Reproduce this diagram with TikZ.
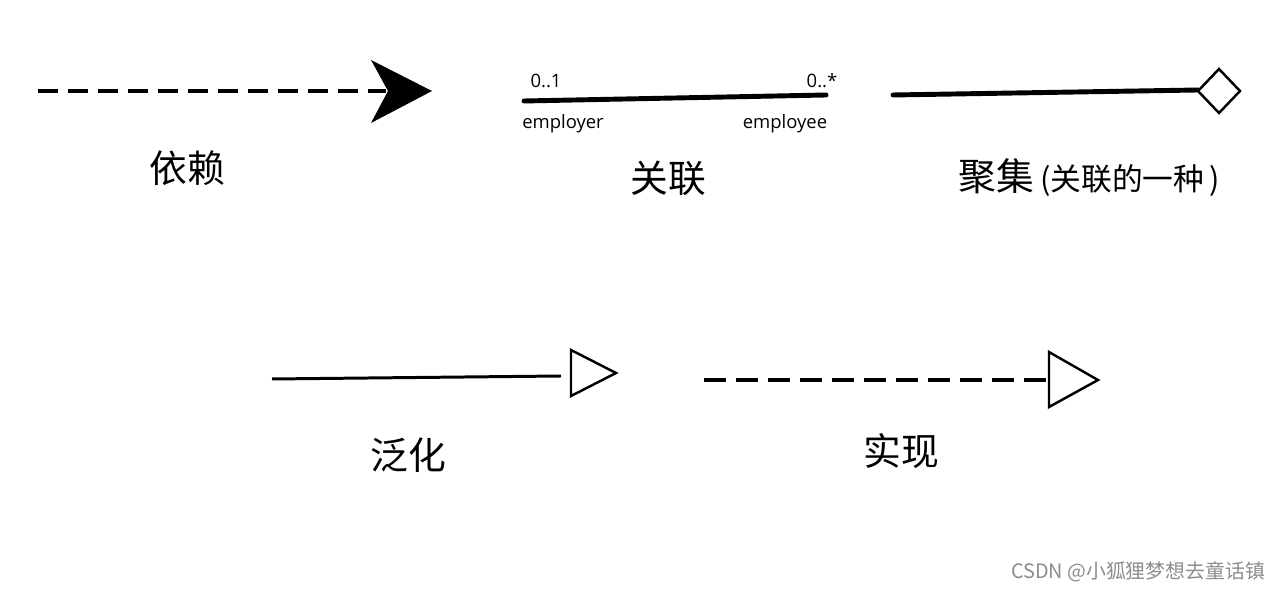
\documentclass[tikz,border=0pt]{standalone}
\usepackage{fontspec}
\setmainfont{Open Sans}
\newfontfamily\cjk{Noto Sans CJK SC}
\usetikzlibrary{positioning}
\begin{document}
\begin{tikzpicture}[x=0.02cm, y=-0.02cm, line join=miter, >=stealth]
	\tikzset{
		kind/.style={font=\cjk\fontsize{21.5}{24}\selectfont, inner sep=0pt},
		card/.style={font=\fontsize{10.5}{12}\selectfont, inner sep=0pt},
		dep/.style={line width=2.3pt, dash pattern=on 11.4pt off 5.7pt},
		real/.style={line width=2.3pt, dash pattern=on 12.5pt off 5.7pt},
		assoc/.style={line width=2.8pt, line cap=round},
		head/.style={draw, line width=1.4pt, fill=white},
	}
	\useasboundingbox (0,0) rectangle (1278,590);
	% dependency
	\coordinate (depA) at (38,91);
	\coordinate (depB) at (386,91);
	\draw[dep] (depA) -- (depB);
	\fill (432,91) -- (371,60) -- (388,91) -- (371,123) -- cycle;
	\node[kind] (depL) at (187,168) {依赖};
	% association
	\coordinate (asA) at (524,101);
	\coordinate (asB) at (826,95);
	\draw[assoc] (asA) -- (asB);
	\node[card] (m1) at (546,81) {0..1};
	\node[card] (m2) at (822,81) {0..*};
	\node[card] (r1) at (563,124) {employer};
	\node[card] (r2) at (785,124) {employee};
	\node[kind] (asL) at (668,178) {关联};
	% aggregation
	\coordinate (agA) at (893,95);
	\coordinate (agB) at (1198,90);
	\draw[assoc] (agA) -- (agB);
	\draw[head] (1198,91) -- (1219,69) -- (1240,91) -- (1219,113) -- cycle;
	\node[kind, anchor=west] (agL) at (958,178) {聚集\,{\fontsize{17.5}{20}\selectfont (关联的一种\,)}};
	% generalization
	\coordinate (geA) at (272,379);
	\coordinate (geB) at (561,376);
	\draw[line width=1.7pt] (geA) -- (geB);
	\draw[head] (571,350) -- (616,373) -- (571,396) -- cycle;
	\node[kind] (geL) at (408,455) {泛化};
	% realization
	\coordinate (reA) at (704,380);
	\coordinate (reB) at (1048,380);
	\draw[real] (reA) -- (reB);
	\draw[head] (1049,352) -- (1098,380) -- (1049,407) -- cycle;
	\node[kind] (reL) at (901,451) {实现};
	\node[font=\cjk\fontsize{11.3}{14}\selectfont, text=black!45, inner sep=0pt] (mark) at (1138,572) {CSDN @小狐狸梦想去童话镇};
\end{tikzpicture}
\end{document}
